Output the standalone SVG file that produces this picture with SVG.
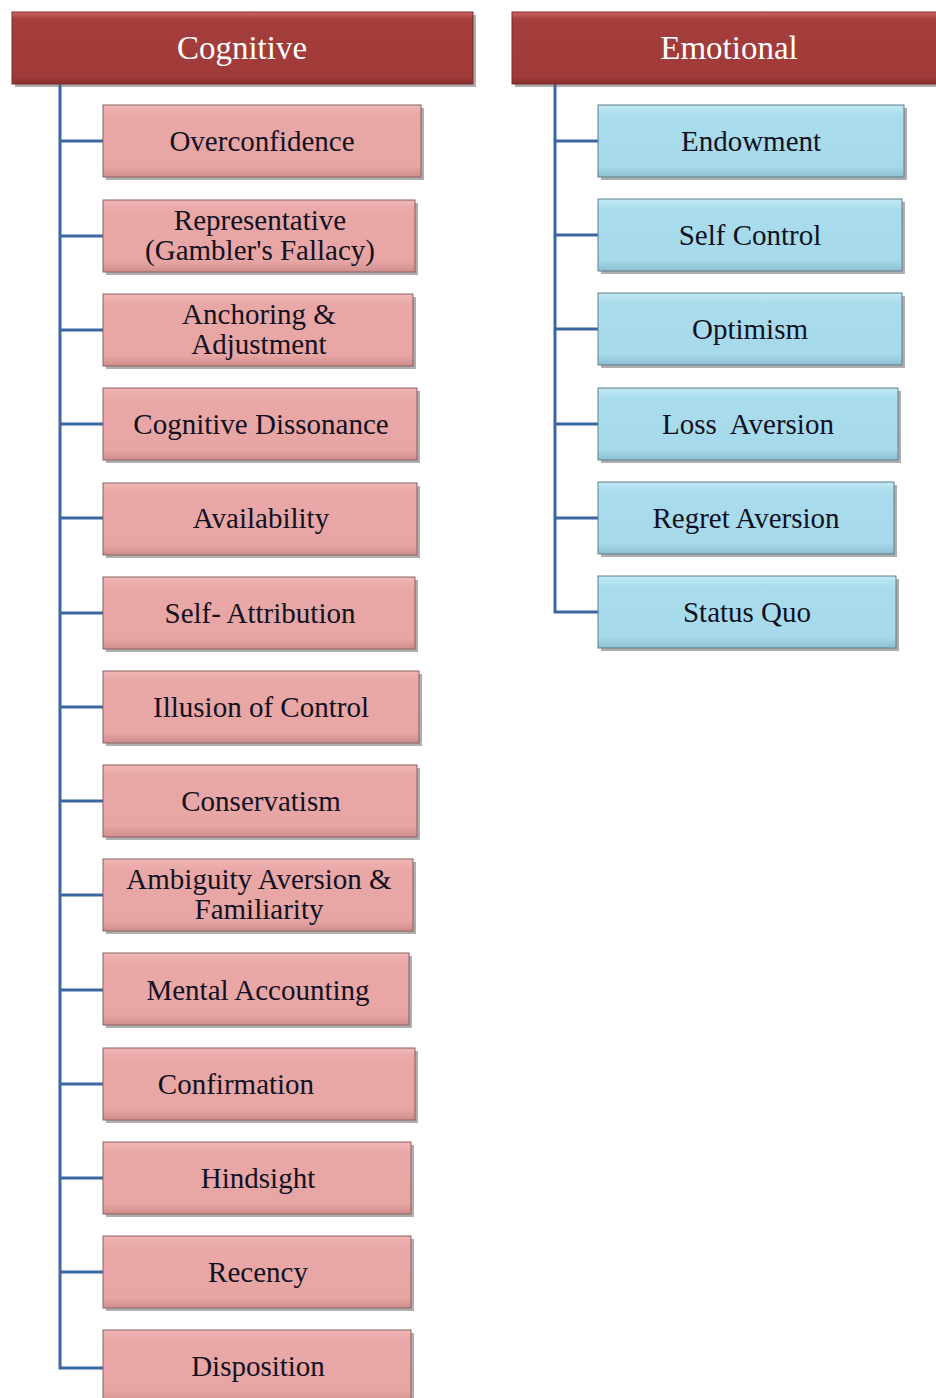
<svg xmlns="http://www.w3.org/2000/svg" width="936" height="1398" viewBox="0 0 936 1398">
<defs>
<linearGradient id="gp" x1="0" y1="0" x2="0" y2="1"><stop offset="0" stop-color="#f0b6b5"/><stop offset="0.15" stop-color="#e9a8a7"/><stop offset="0.85" stop-color="#e7a5a4"/><stop offset="1" stop-color="#cf8e8d"/></linearGradient>
<linearGradient id="gb" x1="0" y1="0" x2="0" y2="1"><stop offset="0" stop-color="#c2e9f4"/><stop offset="0.15" stop-color="#a9dcec"/><stop offset="0.85" stop-color="#a6daea"/><stop offset="1" stop-color="#8cbfcf"/></linearGradient>
<linearGradient id="gh" x1="0" y1="0" x2="0" y2="1"><stop offset="0" stop-color="#d26565"/><stop offset="0.1" stop-color="#a43e3d"/><stop offset="0.9" stop-color="#a03b3a"/><stop offset="1" stop-color="#862f2f"/></linearGradient>
<style>
.hdr{fill:url(#gh);stroke:#7a2a2a;stroke-width:1}
.pink{fill:url(#gp);stroke:#8a6060;stroke-width:1}
.blue{fill:url(#gb);stroke:#5f7f8a;stroke-width:1}
.sh{fill:#6b6b6b;opacity:0.55}
.ht{font-size:33px;fill:#ffffff;text-anchor:middle}
.bt{font-size:29px;fill:#111122;text-anchor:middle}
.conn{fill:none;stroke:#3c66a2;stroke-width:3}
</style>
</defs>
<rect width="936" height="1398" fill="#ffffff"/>
<g id="connectors">
<path class="conn" d="M60 84 V1368 H103"/>
<path class="conn" d="M60 141 H103 M60 236 H103 M60 330 H103 M60 424 H103 M60 518 H103 M60 613 H103 M60 707 H103 M60 801 H103 M60 895 H103 M60 990 H103 M60 1084 H103 M60 1178 H103 M60 1272 H103"/>
<path class="conn" d="M555 84 V612 H598"/>
<path class="conn" d="M555 141 H598 M555 235 H598 M555 329 H598 M555 424 H598 M555 518 H598"/>
</g>
<g id="cognitive">
<rect class="sh" x="15" y="15" width="461" height="72"/>
<rect class="hdr" x="12" y="12" width="461" height="72"/>
<text class="ht" font-family="Liberation Serif" x="242" y="59">Cognitive</text>
</g>
<g id="emotional">
<rect class="sh" x="515" y="15" width="430" height="72"/>
<rect class="hdr" x="512" y="12" width="430" height="72"/>
<text class="ht" font-family="Liberation Serif" x="729" y="59">Emotional</text>
</g>
<g id="overconfidence"><rect class="sh" x="106" y="108" width="318" height="72"/><rect class="pink" x="103" y="105" width="318" height="72"/><text class="bt" font-family="Liberation Serif" x="262" y="151">Overconfidence</text></g>
<g id="representative"><rect class="sh" x="106" y="203" width="312" height="72"/><rect class="pink" x="103" y="200" width="312" height="72"/><text class="bt" font-family="Liberation Serif" x="260" y="230">Representative</text><text class="bt" font-family="Liberation Serif" x="260" y="260">(Gambler's Fallacy)</text></g>
<g id="anchoring"><rect class="sh" x="106" y="297" width="310" height="72"/><rect class="pink" x="103" y="294" width="310" height="72"/><text class="bt" font-family="Liberation Serif" x="259" y="324">Anchoring &amp;</text><text class="bt" font-family="Liberation Serif" x="259" y="354">Adjustment</text></g>
<g id="cognitive-dissonance"><rect class="sh" x="106" y="391" width="314" height="72"/><rect class="pink" x="103" y="388" width="314" height="72"/><text class="bt" font-family="Liberation Serif" x="261" y="434">Cognitive Dissonance</text></g>
<g id="availability"><rect class="sh" x="106" y="486" width="314" height="72"/><rect class="pink" x="103" y="483" width="314" height="72"/><text class="bt" font-family="Liberation Serif" x="261" y="528">Availability</text></g>
<g id="self-attribution"><rect class="sh" x="106" y="580" width="312" height="72"/><rect class="pink" x="103" y="577" width="312" height="72"/><text class="bt" font-family="Liberation Serif" x="260" y="623">Self- Attribution</text></g>
<g id="illusion-of-control"><rect class="sh" x="106" y="674" width="316" height="72"/><rect class="pink" x="103" y="671" width="316" height="72"/><text class="bt" font-family="Liberation Serif" x="261" y="717">Illusion of Control</text></g>
<g id="conservatism"><rect class="sh" x="106" y="768" width="314" height="72"/><rect class="pink" x="103" y="765" width="314" height="72"/><text class="bt" font-family="Liberation Serif" x="261" y="811">Conservatism</text></g>
<g id="ambiguity"><rect class="sh" x="106" y="862" width="310" height="72"/><rect class="pink" x="103" y="859" width="310" height="72"/><text class="bt" font-family="Liberation Serif" x="259" y="889">Ambiguity Aversion &amp;</text><text class="bt" font-family="Liberation Serif" x="259" y="919">Familiarity</text></g>
<g id="mental-accounting"><rect class="sh" x="106" y="956" width="306" height="72"/><rect class="pink" x="103" y="953" width="306" height="72"/><text class="bt" font-family="Liberation Serif" x="258" y="1000">Mental Accounting</text></g>
<g id="confirmation"><rect class="sh" x="106" y="1051" width="312" height="72"/><rect class="pink" x="103" y="1048" width="312" height="72"/><text class="bt" font-family="Liberation Serif" x="236" y="1094">Confirmation</text></g>
<g id="hindsight"><rect class="sh" x="106" y="1145" width="308" height="72"/><rect class="pink" x="103" y="1142" width="308" height="72"/><text class="bt" font-family="Liberation Serif" x="258" y="1188">Hindsight</text></g>
<g id="recency"><rect class="sh" x="106" y="1239" width="308" height="72"/><rect class="pink" x="103" y="1236" width="308" height="72"/><text class="bt" font-family="Liberation Serif" x="258" y="1282">Recency</text></g>
<g id="disposition"><rect class="sh" x="106" y="1333" width="308" height="72"/><rect class="pink" x="103" y="1330" width="308" height="72"/><text class="bt" font-family="Liberation Serif" x="258" y="1376">Disposition</text></g>
<g id="endowment"><rect class="sh" x="601" y="108" width="306" height="72"/><rect class="blue" x="598" y="105" width="306" height="72"/><text class="bt" font-family="Liberation Serif" x="751" y="151">Endowment</text></g>
<g id="self-control"><rect class="sh" x="601" y="202" width="304" height="72"/><rect class="blue" x="598" y="199" width="304" height="72"/><text class="bt" font-family="Liberation Serif" x="750" y="245">Self Control</text></g>
<g id="optimism"><rect class="sh" x="601" y="296" width="304" height="72"/><rect class="blue" x="598" y="293" width="304" height="72"/><text class="bt" font-family="Liberation Serif" x="750" y="339">Optimism</text></g>
<g id="loss-aversion"><rect class="sh" x="601" y="391" width="300" height="72"/><rect class="blue" x="598" y="388" width="300" height="72"/><text class="bt" font-family="Liberation Serif" x="748" y="434" xml:space="preserve">Loss  Aversion</text></g>
<g id="regret-aversion"><rect class="sh" x="601" y="485" width="296" height="72"/><rect class="blue" x="598" y="482" width="296" height="72"/><text class="bt" font-family="Liberation Serif" x="746" y="528">Regret Aversion</text></g>
<g id="status-quo"><rect class="sh" x="601" y="579" width="298" height="72"/><rect class="blue" x="598" y="576" width="298" height="72"/><text class="bt" font-family="Liberation Serif" x="747" y="622">Status Quo</text></g>
</svg>
